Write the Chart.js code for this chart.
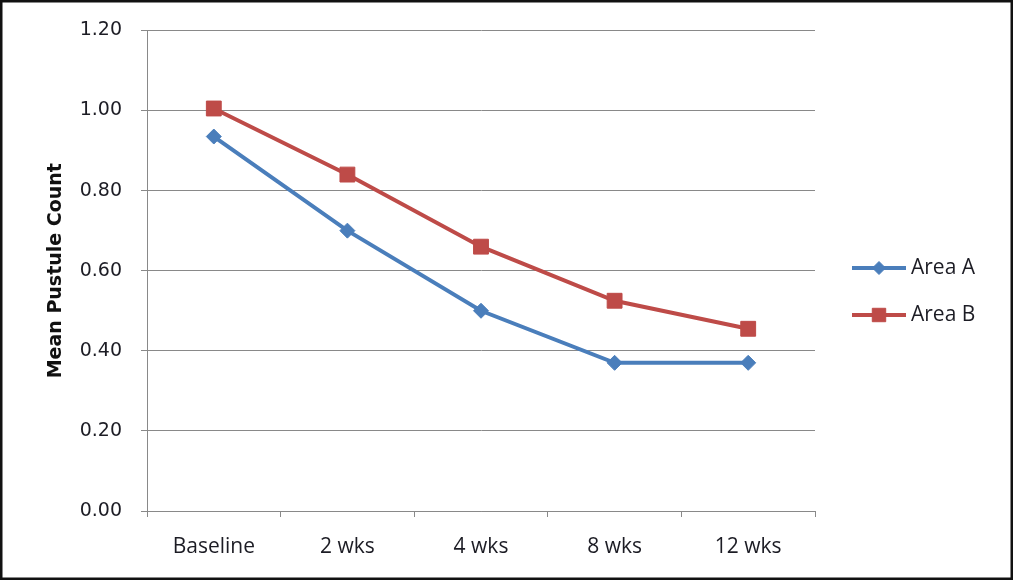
<!DOCTYPE html>
<html>
<head>
<meta charset="utf-8">
<script src="https://cdn.jsdelivr.net/npm/chart.js@4.4.0/dist/chart.umd.min.js"></script>
<style>
  html, body { margin: 0; padding: 0; background: #fff; }
  #wrap { width: 1013px; height: 580px; position: relative; }
</style>
</head>
<body>
<div id="wrap"><canvas id="pustuleChart" width="1013" height="580"></canvas></div>
<script>
// Chart data
const categories = ['Baseline', '2 wks', '4 wks', '8 wks', '12 wks'];
const areaA = [0.935, 0.70, 0.50, 0.37, 0.37];
const areaB = [1.005, 0.84, 0.66, 0.525, 0.455];
const yTicks = [0, 0.2, 0.4, 0.6, 0.8, 1.0, 1.2];

const gridColor = '#898989';
const textColor = '#1c1c24';

// Excel-like legend: line with marker, on the right
const sideLegend = {
    id: 'sideLegend',
    afterDraw(chart) {
        const ctx = chart.ctx;
        const x0 = 852, x1 = 906;
        const ys = [268, 315];
        chart.data.datasets.forEach((ds, i) => {
            const y = ys[i];
            ctx.save();
            ctx.strokeStyle = ds.borderColor;
            ctx.lineWidth = ds.borderWidth;
            ctx.beginPath();
            ctx.moveTo(x0, y);
            ctx.lineTo(x1, y);
            ctx.stroke();
            ctx.fillStyle = ds.borderColor;
            ctx.lineWidth = 1;
            Chart.helpers.drawPoint(ctx, {
                pointStyle: ds.pointStyle,
                radius: ds.pointRadius - 1,
                borderWidth: 1
            }, (x0 + x1) / 2, y);
            ctx.fillStyle = textColor;
            ctx.font = "21px 'Open Sans'";
            ctx.textBaseline = 'middle';
            ctx.fillText(ds.label, x1 + 5, y);
            ctx.restore();
        });
        // black frame
        ctx.save();
        ctx.strokeStyle = '#111';
        ctx.lineWidth = 5;
        ctx.strokeRect(0, 0, chart.width, chart.height);
        ctx.restore();
    }
};

const ctx = document.getElementById('pustuleChart').getContext('2d');
new Chart(ctx, {
    type: 'line',
    data: {
        labels: categories,
        datasets: [{
            label: 'Area A',
            data: areaA,
            borderColor: '#4A7EBB',
            backgroundColor: '#4A7EBB',
            borderWidth: 4,
            pointStyle: 'rectRot',
            pointRadius: 7.5,
            pointBorderWidth: 1,
            tension: 0
        }, {
            label: 'Area B',
            data: areaB,
            borderColor: '#BE4B48',
            backgroundColor: '#BE4B48',
            borderWidth: 4,
            pointStyle: 'rect',
            pointRadius: 10.5,
            pointBorderWidth: 1,
            tension: 0
        }]
    },
    options: {
        responsive: false,
        animation: false,
        layout: { padding: { top: 29, right: 198, bottom: 0, left: 45 } },
        plugins: {
            legend: { display: false },
            tooltip: { enabled: false }
        },
        scales: {
            x: {
                offset: true,
                grid: {
                    offset: true,
                    drawOnChartArea: false,
                    drawTicks: true,
                    tickLength: 6,
                    color: gridColor
                },
                border: { color: gridColor },
                ticks: {
                    color: textColor,
                    font: { family: "'Open Sans'", size: 21 },
                    padding: 17
                },
                afterFit: (scale) => { scale.height = 69; }
            },
            y: {
                min: 0,
                max: 1.2,
                afterBuildTicks: (scale) => { scale.ticks = yTicks.map(v => ({ value: v })); },
                grid: {
                    color: gridColor,
                    tickLength: 6
                },
                border: { color: gridColor },
                ticks: {
                    color: textColor,
                    font: { family: "'DejaVu Sans'", size: 19 },
                    padding: 19,
                    callback: (v) => v.toFixed(2)
                },
                title: {
                    display: true,
                    text: 'Mean Pustule Count',
                    color: '#111',
                    font: { family: "'DejaVu Sans'", size: 19, weight: 'bold' },
                    padding: { top: 0, bottom: 0 }
                },
                afterFit: (scale) => { scale.width = 102; }
            }
        }
    },
    plugins: [sideLegend]
});
</script>
</body>
</html>
